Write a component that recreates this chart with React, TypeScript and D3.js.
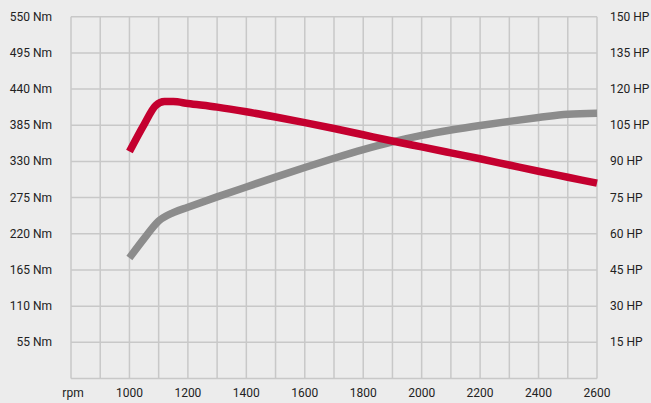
import React from "react";
import * as d3 from "d3";

const rpmTicks = [800, 1000, 1200, 1400, 1600, 1800, 2000, 2200, 2400, 2600];
const nmTicks = [55, 110, 165, 220, 275, 330, 385, 440, 495, 550];
const hpTicks = [15, 30, 45, 60, 75, 90, 105, 120, 135, 150];

const torqueRpm = [1000, 1050, 1090, 1120, 1150, 1200, 1300, 1400, 1500, 1600, 1700, 1800, 1900, 2000, 2100, 2200, 2300, 2400, 2500, 2600];
const torqueNm = [345, 386, 415, 421, 421, 418, 412.5, 405.5, 397.5, 389, 380, 370.5, 361, 352, 343, 334, 324.5, 315, 306, 297];

const powerRpm = [1000, 1050, 1100, 1150, 1200, 1300, 1400, 1500, 1600, 1700, 1800, 1900, 2000, 2100, 2200, 2300, 2400, 2500, 2600];
const powerHp = [50, 58, 65.3, 68.8, 71, 75.3, 79.4, 83.5, 87.5, 91.3, 94.9, 98.1, 100.8, 103, 104.9, 106.6, 108.2, 109.6, 110];

const W = 651;
const H = 403;
const left = 71;
const right = 597;
const top = 16.7;
const bottom = 378.5;

export default function App() {
  const x = d3.scaleLinear().domain([800, 2600]).range([left, right]);
  const yNm = d3.scaleLinear().domain([0, 550]).range([bottom, top]);
  const yHp = d3.scaleLinear().domain([0, 150]).range([bottom, top]);
  const vGrid = d3.range(800, 2601, 100);
  const hGrid = d3.range(0, 551, 55);

  const torqueLine = d3
    .line<number>()
    .x((_, i) => x(torqueRpm[i]))
    .y((d) => yNm(d))
    .curve(d3.curveMonotoneX);
  const powerLine = d3
    .line<number>()
    .x((_, i) => x(powerRpm[i]))
    .y((d) => yHp(d))
    .curve(d3.curveMonotoneX);

  const font = "Roboto, 'Noto Sans', sans-serif";

  return (
    <svg
      width={W}
      height={H}
      style={{ position: "absolute", left: 0, top: 0, display: "block" }}
      fontFamily={font}
    >
      <rect x={0} y={0} width={W} height={H} fill="#ececec" />
      <g stroke="#c8c8c8" strokeWidth={1.5}>
        {vGrid.map((v) => (
          <line key={"v" + v} x1={x(v)} x2={x(v)} y1={top} y2={bottom} />
        ))}
        {hGrid.map((v) => (
          <line key={"h" + v} x1={left} x2={right} y1={yNm(v)} y2={yNm(v)} />
        ))}
      </g>
      <path d={powerLine(powerHp) || ""} fill="none" stroke="#8c8c8c" strokeWidth={7.5} strokeLinejoin="round" />
      <path d={torqueLine(torqueNm) || ""} fill="none" stroke="#c4002f" strokeWidth={7.5} strokeLinejoin="round" />
      <g fontSize={12} fill="#222">
        {nmTicks.map((v) => (
          <text key={"nm" + v} x={52} y={yNm(v)} textAnchor="end" dominantBaseline="central">
            {v} Nm
          </text>
        ))}
        {hpTicks.map((v) => (
          <text key={"hp" + v} x={610} y={yHp(v)} textAnchor="start" dominantBaseline="central">
            {v} HP
          </text>
        ))}
        {rpmTicks.map((v) => (
          <text key={"r" + v} x={v === 800 ? x(v) + 2 : x(v)} y={393} textAnchor="middle" dominantBaseline="central">
            {v === 800 ? "rpm" : v}
          </text>
        ))}
      </g>
    </svg>
  );
}
